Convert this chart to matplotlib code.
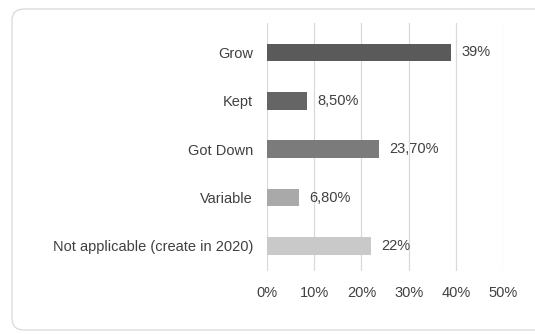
import matplotlib.pyplot as plt
from matplotlib.patches import FancyBboxPatch
import numpy as np

# Data
categories = ['Grow', 'Kept', 'Got Down', 'Variable', 'Not applicable (create in 2020)']
values = [39.0, 8.5, 23.7, 6.8, 22.0]
value_labels = ['39%', '8,50%', '23,70%', '6,80%', '22%']
bar_colors = ['#5a5a5a', '#656565', '#7b7b7b', '#a9a9a9', '#c9c9c9']
xticks = [0, 10, 20, 30, 40, 50]

plt.rcParams['font.family'] = ['Liberation Sans', 'DejaVu Sans']

fig = plt.figure(figsize=(5.35, 3.34), dpi=100)
fig.patch.set_facecolor('white')

# rounded card border (sized in pixels so the corner stays round)
card = FancyBboxPatch((12, 4), 600, 321,
                      boxstyle='round,pad=0,rounding_size=12',
                      transform=None, facecolor='none',
                      edgecolor='#dcdcdc', linewidth=1.0, zorder=-1)
fig.patches.append(card)

ax = fig.add_axes([267 / 535, 1 - 271 / 334, (503 - 267) / 535, (271 - 23) / 334])
ax.set_facecolor('none')

y = np.arange(len(categories))
ax.barh(y, values, height=0.36, color=bar_colors, zorder=3)

for yi, v, lab in zip(y, values, value_labels):
    ax.text(v + 2.1, yi, lab, va='center', ha='left', fontsize=10.5, color='#404040')

ax.set_xlim(0, 50)
ax.set_ylim(4.52, -0.61)
ax.set_xticks(xticks)
ax.set_xticklabels([f'{t}%' for t in xticks])
ax.set_yticks(y)
ax.set_yticklabels(categories)
ax.tick_params(axis='both', length=0, labelsize=10.5, labelcolor='#404040')
ax.tick_params(axis='x', pad=11)
ax.tick_params(axis='y', pad=10)
ax.grid(axis='x', color='#d9d9d9', linewidth=0.9, zorder=0)
for s in ax.spines.values():
    s.set_visible(False)

fig.savefig('out.png', dpi=100)
